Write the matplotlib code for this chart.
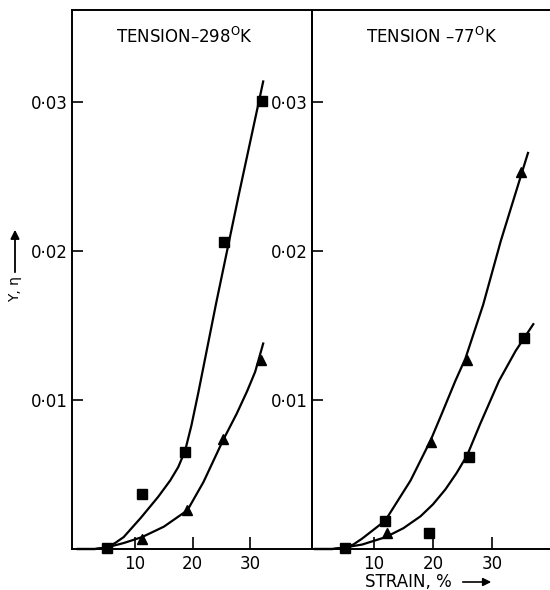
import matplotlib
matplotlib.use("Agg")
import matplotlib.pyplot as plt
from matplotlib.patches import FancyArrowPatch

plt.rcParams['font.family'] = ['DejaVu Sans']
plt.rcParams['mathtext.fontset'] = 'dejavusans'

# ---- data ----
# tension 298 K
sq298_x = [5.1, 11.2, 18.7, 25.5, 32.1]
sq298_y = [0.0001, 0.0037, 0.0065, 0.0206, 0.0301]
tri298_x = [11.2, 19.1, 25.3, 31.9]
tri298_y = [0.0007, 0.0026, 0.0074, 0.0127]
# fitted curves (traced)
c_sq298_x = [0, 3, 5, 6.5, 8, 11, 14, 16.1, 17.5, 18.7, 19.8, 21, 24.1, 28, 32.3]
c_sq298_y = [0, 0, 0.0001, 0.0004, 0.0008, 0.0021, 0.0035, 0.0046, 0.0055, 0.0066,
             0.0083, 0.0105, 0.0165, 0.0237, 0.0314]
c_tri298_x = [0, 3, 5, 8, 11.2, 15, 19.1, 21.9, 25.3, 27.7, 29.5, 30.9, 32.3]
c_tri298_y = [0, 0, 0.0001, 0.0004, 0.0008, 0.0015, 0.0026, 0.0045, 0.0073, 0.0091,
              0.0106, 0.0119, 0.0138]

# tension 77 K
sq77_x = [5.1, 11.9, 19.4, 26.1, 35.4]
sq77_y = [0.0001, 0.0019, 0.0011, 0.0062, 0.0142]
tri77_x = [12.2, 19.7, 25.7, 35.0]
tri77_y = [0.0011, 0.0072, 0.0127, 0.0253]
c_tri77_x = [0, 3, 5, 6.5, 8, 11.9, 16.2, 19.6, 21.3, 23.8, 25.5, 28.5, 31.5, 36.1]
c_tri77_y = [0, 0, 0.0001, 0.0003, 0.0007, 0.0019, 0.0046, 0.0073, 0.0089, 0.0113,
             0.0128, 0.0164, 0.0207, 0.0266]
c_sq77_x = [0, 3, 5, 8, 12, 15, 17.9, 20, 22.1, 24, 25.8, 28, 31.2, 34, 37.0]
c_sq77_y = [0, 0, 0.0001, 0.0003, 0.0008, 0.0014, 0.0022, 0.0030, 0.0040, 0.0051,
            0.0063, 0.0084, 0.0113, 0.0133, 0.0151]

yticks = [0.01, 0.02, 0.03]
ytick_labels = ['0·01', '0·02', '0·03']
xticks = [10, 20, 30]
titles = ['TENSION–298$^{\\mathrm{O}}$K', 'TENSION –77$^{\\mathrm{O}}$K']

W, H = 550, 590
fig = plt.figure(figsize=(W / 100, H / 100), dpi=100)

def box(x0, x1, y0, y1):
    return [x0 / W, 1 - y1 / H, (x1 - x0) / W, (y1 - y0) / H]

def fpt(x, y):
    # pixel from top-left -> figure fraction
    return (x / W, 1 - y / H)

ax1 = fig.add_axes(box(72, 312, 10, 549))
ax2 = fig.add_axes(box(312, 551, 10, 549))

panels = [
    (ax1, (-1, 40.8), sq298_x, sq298_y, tri298_x, tri298_y,
     [(c_sq298_x, c_sq298_y), (c_tri298_x, c_tri298_y)], titles[0], 184),
    (ax2, (-0.5, 40), sq77_x, sq77_y, tri77_x, tri77_y,
     [(c_tri77_x, c_tri77_y), (c_sq77_x, c_sq77_y)], titles[1], 432),
]

for ax, xl, sx, sy, tx, ty, curves, title, tx_px in panels:
    for cx, cy in curves:
        ax.plot(cx, cy, color='black', lw=1.6, clip_on=False, zorder=2,
                solid_joinstyle='round')
    ax.plot(sx, sy, 's', color='black', ms=6.5, clip_on=False, zorder=3)
    ax.plot(tx, ty, '^', color='black', ms=7, clip_on=False, zorder=3)
    ax.set_xlim(*xl)
    ax.set_ylim(0, 0.0362)
    ax.set_yticks(yticks)
    ax.set_yticklabels(ytick_labels, fontsize=12)
    ax.set_xticks(xticks)
    ax.set_xticklabels([str(v) for v in xticks], fontsize=12)
    ax.tick_params(axis='y', direction='in', length=8, width=1.2, pad=3)
    ax.tick_params(axis='x', direction='in', length=9, width=1.2, pad=4)
    for s in ax.spines.values():
        s.set_linewidth(1.4)
    ax.set_facecolor('none')
    fig.text(*fpt(tx_px, 37), title, ha='center', va='center', fontsize=12)

ax2.spines['right'].set_visible(False)

# y label with an upward arrow above it
fig.text(*fpt(15, 289), 'Y, η', rotation=90, ha='center', va='center', fontsize=10)
fig.patches.append(FancyArrowPatch(
    fpt(15, 275), fpt(15, 227), transform=fig.transFigure,
    arrowstyle='-|>', mutation_scale=13, lw=1.3, color='black'))

# x label with arrow
fig.text(*fpt(408, 582), 'STRAIN, %', ha='center', va='center', fontsize=12)
fig.patches.append(FancyArrowPatch(
    fpt(460, 582), fpt(494, 582), transform=fig.transFigure,
    arrowstyle='-|>', mutation_scale=12, lw=1.2, color='black'))

fig.savefig('out.png', dpi=100)
